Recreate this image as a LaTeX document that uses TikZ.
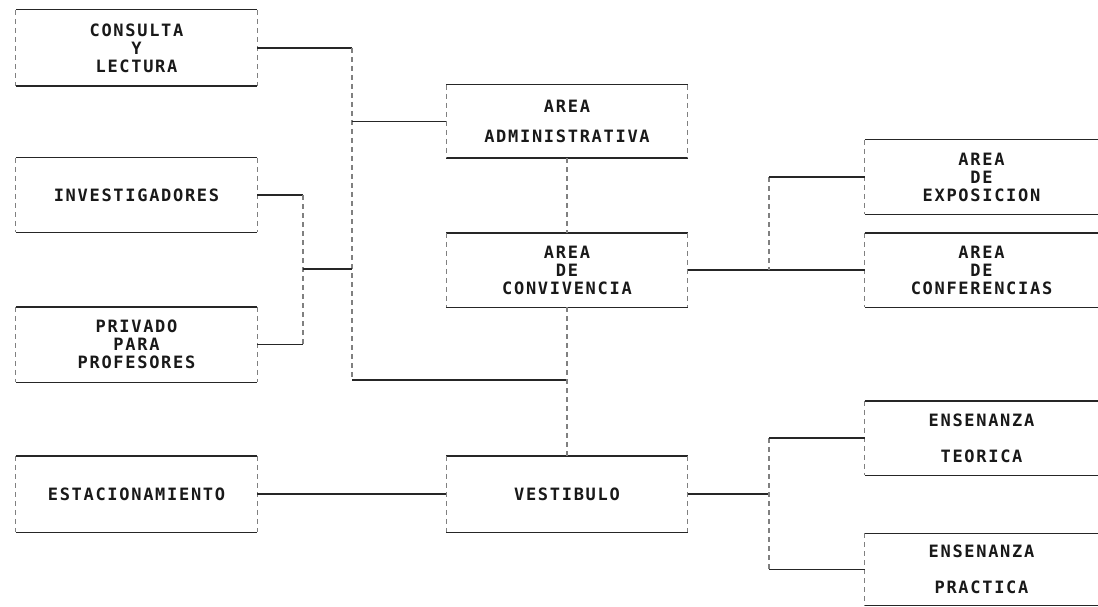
\documentclass[tikz,border=0pt]{standalone}
\usepackage{fontspec}
\newfontfamily\dotfont[LetterSpace=10, UprightFont={* Bold}]{DejaVu Sans Mono}
\begin{document}
\begin{tikzpicture}[x=1pt,y=-1pt,
  hl/.style={line width=1.4pt, draw=black!85},
  vl/.style={line width=1.2pt, draw=black!50, dash pattern=on 5pt off 4pt},
  lbl/.style={inner sep=0pt, align=center, text=black!90,
    font=\dotfont\fontsize{17}{18}\selectfont},
  blk/.style={lbl, minimum width=241pt,
    append after command={
      (\tikzlastnode.north west) edge[hl] (\tikzlastnode.north east)
      (\tikzlastnode.south west) edge[hl] (\tikzlastnode.south east)
      (\tikzlastnode.north west) edge[vl] (\tikzlastnode.south west)
      (\tikzlastnode.north east) edge[vl] (\tikzlastnode.south east)}},
  blkopen/.style={lbl, minimum width=233pt,
    append after command={
      (\tikzlastnode.north west) edge[hl] (\tikzlastnode.north east)
      (\tikzlastnode.south west) edge[hl] (\tikzlastnode.south east)
      (\tikzlastnode.north west) edge[vl] (\tikzlastnode.south west)}}]
\fill[white] (0,0) rectangle (1098,607);
\useasboundingbox (0,0) rectangle (1098,607);

% left column
\node[blk, minimum height=76pt] (cons) at (136.5,48) {CONSULTA\\Y\\LECTURA};
\node[blk, minimum height=74pt] (inv) at (136.5,195) {INVESTIGADORES};
\node[blk, minimum height=75pt] (priv) at (136.5,344.5) {PRIVADO\\PARA\\PROFESORES};
\node[blk, minimum height=76pt] (est) at (136.5,494) {ESTACIONAMIENTO};

% middle column
\node[blk, minimum height=73pt] (adm) at (567,121.5) {AREA\\[12pt]ADMINISTRATIVA};
\node[blk, minimum height=74pt] (conv) at (567,270) {AREA\\DE\\CONVIVENCIA};
\node[blk, minimum height=76pt] (vest) at (567,494) {VESTIBULO};

% right column
\node[blkopen, minimum height=74pt] (expo) at (981.5,177) {AREA\\DE\\EXPOSICION};
\node[blkopen, minimum height=74pt] (conf) at (981.5,270) {AREA\\DE\\CONFERENCIAS};
\node[blkopen, minimum height=74pt] (teo) at (981.5,438) {ENSENANZA\\[18pt]TEORICA};
\node[blkopen, minimum height=72pt] (prac) at (981.5,569.5) {ENSENANZA\\[18pt]PRACTICA};

% junction points
\coordinate (t1) at (352,48);
\coordinate (t2) at (352,380);
\coordinate (s1) at (303,195);
\coordinate (s2) at (303,344.5);
\coordinate (s3) at (303,269);
\coordinate (r1) at (769,177);
\coordinate (r2) at (769,438);
\coordinate (r3) at (769,569.5);

% left trunk
\draw[hl] (cons.east) -- (t1);
\draw[vl] (t1) -- (t2);
\draw[hl] (t1 |- adm.west) -- (adm.west);
\draw[hl] (t2) -- (t2 -| vest.north);
\draw[hl] (inv.east) -- (s1);
\draw[vl] (s1) -- (s2);
\draw[hl] (s2) -- (priv.east);
\draw[hl] (s3) -- (s3 -| t1);

% centre spine
\draw[vl] (adm.south) -- (conv.north);
\draw[vl] (conv.south) -- (vest.north);

% upper right
\draw[hl] (conv.east) -- (conf.west);
\draw[vl] (r1) -- (r1 |- conv.east);
\draw[hl] (r1) -- (expo.west);

% lower
\draw[hl] (est.east) -- (vest.west);
\draw[hl] (vest.east) -- (vest.east -| r2);
\draw[vl] (r2) -- (r3);
\draw[hl] (r2) -- (teo.west);
\draw[hl] (r3) -- (prac.west);
\end{tikzpicture}
\end{document}
